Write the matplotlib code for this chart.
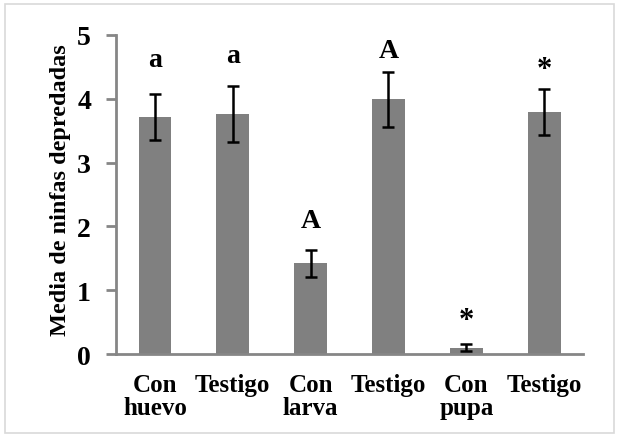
import matplotlib
matplotlib.use("Agg")
import matplotlib.pyplot as plt
from matplotlib.patches import Rectangle

categories = ["Con\nhuevo", "Testigo", "Con\nlarva", "Testigo", "Con\npupa", "Testigo"]
means = [3.72, 3.76, 1.42, 3.99, 0.10, 3.79]
errors = [0.36, 0.44, 0.21, 0.43, 0.06, 0.36]
letters = ["a", "a", "A", "A", "*", "*"]
letter_y = [4.62, 4.68, 2.09, 4.76, 0.52, 4.46]
yticks = [0, 1, 2, 3, 4, 5]

plt.rcParams['font.family'] = ['Liberation Serif', 'DejaVu Serif']
plt.rcParams['font.weight'] = 'bold'

fig = plt.figure(figsize=(6.19, 4.39), dpi=100)
fig.patches.append(Rectangle((0.008, 0.011), 0.984, 0.978, transform=fig.transFigure,
                             fill=False, edgecolor='#d9d9d9', linewidth=1.2))
ax = fig.add_axes([0.1874, 0.1913, 0.7546, 0.7267])

x = list(range(len(categories)))
ax.bar(x, means, width=0.42, color='#808080', zorder=2)
ax.errorbar(x, means, yerr=errors, fmt='none', ecolor='black', elinewidth=1.8,
            capsize=4.5, capthick=1.8, zorder=3)

for xi, ly, lab in zip(x, letter_y, letters):
    ax.text(xi, ly, lab, ha='center', va='center', fontsize=22 if lab == "*" else 20,
            fontweight='bold', color='black')

ax.set_xlim(-0.5, len(categories) - 0.5)
ax.set_ylim(0, 5)
ax.set_yticks(yticks)
ax.set_yticklabels([str(t) for t in yticks], fontsize=20, fontweight='bold')
ax.set_xticks(x)
ax.set_xticklabels(categories, fontsize=18, fontweight='bold', linespacing=1.0)
ax.tick_params(axis='x', length=0, pad=14)
ax.tick_params(axis='y', length=7, width=2, color='#868686', pad=11, direction='out')
ax.set_ylabel("Media de ninfas depredadas", fontsize=17.5, fontweight='bold')
ax.yaxis.set_label_coords(-0.096, 0.517)

for s in ['top', 'right']:
    ax.spines[s].set_visible(False)
for s in ['left', 'bottom']:
    ax.spines[s].set_color('#868686')
    ax.spines[s].set_linewidth(2)

fig.savefig("out.png", dpi=100)
